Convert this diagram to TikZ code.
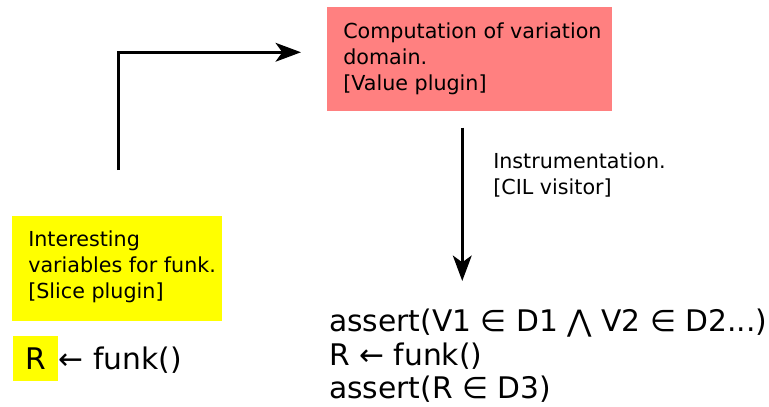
\documentclass[tikz,border=0pt]{standalone}
\usepackage{fontspec}
\setmainfont{DejaVu Sans}
\usetikzlibrary{positioning, calc, arrows.meta}

\definecolor{valuered}{HTML}{FF8080}
\definecolor{sliceyellow}{HTML}{FFFF00}
\newcommand{\smalltext}{\fontsize{15.5pt}{19.5pt}\selectfont}
\newcommand{\bigtext}{\fontsize{22.3pt}{25pt}\selectfont}

\begin{document}
\begin{tikzpicture}
    [x=0.75pt, y=-0.75pt,
    pluginnode/.style={rectangle, fill=#1, anchor=north west, inner sep=0pt, font=\smalltext},
    codenode/.style={anchor=north west, inner sep=0pt, align=left, font=\bigtext},
    flow/.style={-{Stealth[length=19pt, width=14pt, inset=5pt]}, line width=2.6pt},]

    \useasboundingbox (0,0) rectangle (769,407);

    %Nodes
    \node[pluginnode=valuered](V) at (327,7){\parbox[c][78pt][t]{213.75pt}{\leftskip=12pt
        \vspace*{12pt}Computation of variation\\domain.\\{}[Value plugin]}};
    \node[pluginnode=sliceyellow](S) at (12,216){\parbox[c][78.75pt][t]{157.5pt}{\leftskip=12pt
        \vspace*{10.8pt}Interesting\\variables for funk.\\{}[Slice plugin]}};

    \node[rectangle, fill=sliceyellow, minimum size=33.75pt, inner sep=0pt, anchor=north west, font=\bigtext](R) at (13,336){R};
    \node[anchor=base west, inner sep=0pt, font=\bigtext](F) at (R.base east){← funk()};

    \node[codenode](C) at (329,309){assert(V1 ∈ D1 ⋀ V2 ∈ D2...)\\R ← funk()\\assert(R ∈ D3)};

    %Lines
    \draw[flow]($(S.north)+(1,-46)$) |- ($(V.west)+(-26,-7)$);
    \draw[flow]($(V.south)+(-7.5,16)$) -- ($(V.south |- C.north)+(-7.5,-28)$);

    %Labels
    \node[anchor=north west, inner sep=0pt, align=left, font=\smalltext](Ilabel) at (493,153){Instrumentation.\\{}[CIL visitor]};

\end{tikzpicture}
\end{document}
